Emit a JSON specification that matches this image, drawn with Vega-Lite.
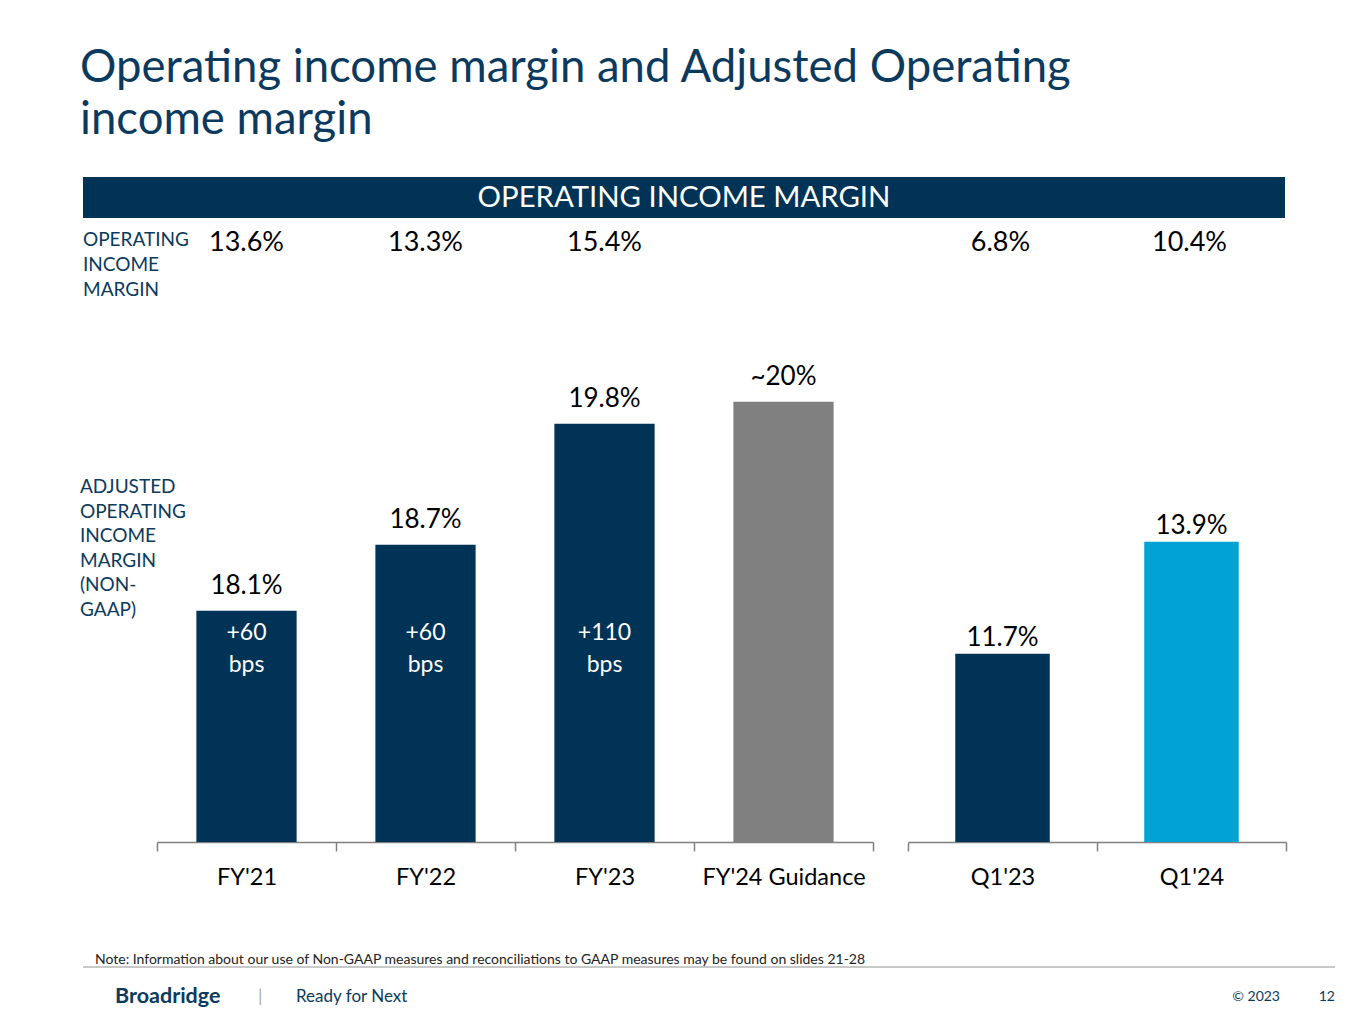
{
  "$schema": "https://vega.github.io/schema/vega-lite/v6.json",
  "background": "white",
  "padding": {"left": 80, "top": 45, "right": 0, "bottom": 0},
  "config": {
    "view": {"stroke": null},
    "font": "Lato",
    "axis": {"labelFont": "Lato", "titleFont": "Lato"},
    "text": {"font": "Lato"},
    "title": {"font": "Lato"}
  },
  "title": {
    "text": ["Operating income margin and Adjusted Operating", "income margin"],
    "anchor": "start",
    "fontSize": 45.5,
    "fontWeight": "normal",
    "color": "#0b3a5e",
    "lineHeight": 52,
    "offset": 34
  },
  "datasets": {
    "margins": [
      {"period": "FY'21", "span": "Fiscal year", "metric": "Operating income margin", "value": 13.6, "label": "13.6%"},
      {"period": "FY'22", "span": "Fiscal year", "metric": "Operating income margin", "value": 13.3, "label": "13.3%"},
      {"period": "FY'23", "span": "Fiscal year", "metric": "Operating income margin", "value": 15.4, "label": "15.4%"},
      {"period": "Q1'23", "span": "Quarter", "metric": "Operating income margin", "value": 6.8, "label": "6.8%"},
      {"period": "Q1'24", "span": "Quarter", "metric": "Operating income margin", "value": 10.4, "label": "10.4%"},
      {"period": "FY'21", "span": "Fiscal year", "metric": "Adjusted operating income margin", "value": 18.1, "label": "18.1%", "kind": "Actual", "bps": "+60\nbps"},
      {"period": "FY'22", "span": "Fiscal year", "metric": "Adjusted operating income margin", "value": 18.7, "label": "18.7%", "kind": "Actual", "bps": "+60\nbps"},
      {"period": "FY'23", "span": "Fiscal year", "metric": "Adjusted operating income margin", "value": 19.8, "label": "19.8%", "kind": "Actual", "bps": "+110\nbps"},
      {"period": "FY'24 Guidance", "span": "Fiscal year", "metric": "Adjusted operating income margin", "value": 20, "label": "~20%", "kind": "Guidance"},
      {"period": "Q1'23", "span": "Quarter", "metric": "Adjusted operating income margin", "value": 11.7, "label": "11.7%", "kind": "Actual"},
      {"period": "Q1'24", "span": "Quarter", "metric": "Adjusted operating income margin", "value": 13.9, "label": "13.9%", "kind": "Current"}
    ]
  },
  "spacing": 8,
  "vconcat": [
    {
      "width": 1202,
      "height": 41,
      "data": {"values": [{"header": "OPERATING INCOME MARGIN"}]},
      "encoding": {
        "x": {"field": "header", "type": "nominal", "scale": {"paddingInner": 0, "paddingOuter": 0}, "axis": null}
      },
      "layer": [
        {"mark": {"type": "rect", "color": "#003356"}},
        {"mark": {"type": "text", "color": "white", "fontSize": 29.3}, "encoding": {"text": {"field": "header"}}}
      ]
    },
    {
      "spacing": 62,
      "vconcat": [
        {
          "spacing": 0,
          "bounds": "flush",
          "hconcat": [
            {
              "width": 74,
              "height": 34,
              "data": {"values": [{"rowLabel": "OPERATING\nINCOME\nMARGIN"}]},
              "mark": {"type": "text", "align": "left", "baseline": "top", "dy": 5, "fontSize": 19, "color": "#0b3a5e", "lineBreak": "\n", "lineHeight": 25},
              "encoding": {
                "x": {"field": "rowLabel", "type": "nominal", "bandPosition": 0, "scale": {"type": "band", "paddingInner": 0, "paddingOuter": 0}, "axis": null},
                "y": {"field": "rowLabel", "type": "nominal", "bandPosition": 0, "scale": {"type": "band", "paddingInner": 0, "paddingOuter": 0}, "axis": null},
                "text": {"field": "rowLabel"}
              }
            },
            {
              "spacing": 33,
              "hconcat": [
                {
                  "width": 716,
                  "height": 34,
                  "data": {"name": "margins"},
                  "transform": [{"filter": "datum.metric === 'Operating income margin' && datum.span === 'Fiscal year'"}],
                  "mark": {"type": "text", "fontSize": 27, "color": "black"},
                  "encoding": {
                    "x": {"field": "period", "type": "nominal", "scale": {"domain": ["FY'21", "FY'22", "FY'23", "FY'24 Guidance"], "paddingInner": 0, "paddingOuter": 0}, "axis": null},
                    "text": {"field": "label"}
                  }
                },
                {
                  "width": 378,
                  "height": 34,
                  "data": {"name": "margins"},
                  "transform": [{"filter": "datum.metric === 'Operating income margin' && datum.span === 'Quarter'"}],
                  "mark": {"type": "text", "fontSize": 27, "color": "black"},
                  "encoding": {
                    "x": {"field": "period", "type": "nominal", "scale": {"domain": ["Q1'23", "Q1'24"], "paddingInner": 0, "paddingOuter": 0}, "axis": null},
                    "text": {"field": "label"}
                  }
                }
              ]
            }
          ]
        },
        {
          "spacing": 64,
          "vconcat": [
            {
              "spacing": 0,
              "bounds": "flush",
              "hconcat": [
                {
                  "width": 74,
                  "height": 480,
                  "data": {"values": [{"rowLabel": "ADJUSTED\nOPERATING\nINCOME\nMARGIN\n(NON-\nGAAP)"}]},
                  "mark": {"type": "text", "align": "left", "baseline": "top", "dx": -3, "dy": 116, "fontSize": 19, "color": "#0b3a5e", "lineBreak": "\n", "lineHeight": 24.6},
                  "encoding": {
                    "x": {"field": "rowLabel", "type": "nominal", "bandPosition": 0, "scale": {"type": "band", "paddingInner": 0, "paddingOuter": 0}, "axis": null},
                    "y": {"field": "rowLabel", "type": "nominal", "bandPosition": 0, "scale": {"type": "band", "paddingInner": 0, "paddingOuter": 0}, "axis": null},
                    "text": {"field": "rowLabel"}
                  }
                },
                {
                  "spacing": 33,
                  "hconcat": [
                    {
                      "width": 716,
                      "height": 480,
                      "data": {"name": "margins"},
                      "transform": [{"filter": "datum.metric === 'Adjusted operating income margin' && datum.span === 'Fiscal year'"}],
                      "encoding": {
                        "x": {"field": "period", "type": "nominal", "scale": {"domain": ["FY'21", "FY'22", "FY'23", "FY'24 Guidance"], "paddingInner": 0, "paddingOuter": 0},
                          "axis": {"title": null, "labelAngle": 0, "labelFontSize": 23.5, "labelColor": "black", "labelPadding": 14, "tickBand": "extent", "tickSize": 9, "tickColor": "#808080", "tickWidth": 1.5, "domainColor": "#808080", "domainWidth": 1.5}}
                      },
                      "layer": [
                        {
                          "mark": {"type": "bar", "width": {"band": 0.56}},
                          "encoding": {
                            "y": {"field": "value", "type": "quantitative", "scale": {"domain": [16, 20.36], "zero": false, "nice": false}, "axis": null},
                            "y2": {"datum": 16},
                            "color": {"field": "kind", "type": "nominal", "scale": {"domain": ["Actual", "Guidance", "Current"], "range": ["#003356", "#808080", "#00a3d4"]}, "legend": null}
                          }
                        },
                        {
                          "mark": {"type": "text", "baseline": "bottom", "dy": -12, "fontSize": 26, "color": "black"},
                          "encoding": {"y": {"field": "value", "type": "quantitative"}, "text": {"field": "label"}}
                        },
                        {
                          "transform": [{"filter": "isValid(datum.bps)"}],
                          "mark": {"type": "text", "baseline": "top", "fontSize": 23, "color": "white", "lineBreak": "\n", "lineHeight": 32},
                          "encoding": {"y": {"datum": 18.0}, "text": {"field": "bps"}}
                        }
                      ]
                    },
                    {
                      "width": 378,
                      "height": 480,
                      "data": {"name": "margins"},
                      "transform": [{"filter": "datum.metric === 'Adjusted operating income margin' && datum.span === 'Quarter'"}],
                      "encoding": {
                        "x": {"field": "period", "type": "nominal", "scale": {"domain": ["Q1'23", "Q1'24"], "paddingInner": 0, "paddingOuter": 0},
                          "axis": {"title": null, "labelAngle": 0, "labelFontSize": 23.5, "labelColor": "black", "labelPadding": 14, "tickBand": "extent", "tickSize": 9, "tickColor": "#808080", "tickWidth": 1.5, "domainColor": "#808080", "domainWidth": 1.5}}
                      },
                      "layer": [
                        {
                          "mark": {"type": "bar", "width": {"band": 0.5}},
                          "encoding": {
                            "y": {"field": "value", "type": "quantitative", "scale": {"domain": [8, 17.43], "zero": false, "nice": false}, "axis": null},
                            "y2": {"datum": 8},
                            "color": {"field": "kind", "type": "nominal", "scale": {"domain": ["Actual", "Guidance", "Current"], "range": ["#003356", "#808080", "#00a3d4"]}, "legend": null}
                          }
                        },
                        {
                          "mark": {"type": "text", "baseline": "bottom", "dy": -3, "fontSize": 26, "color": "black"},
                          "encoding": {"y": {"field": "value", "type": "quantitative"}, "text": {"field": "label"}}
                        }
                      ]
                    }
                  ]
                }
              ]
            },
            {
              "width": 1252,
              "height": 37,
              "data": {"values": [
                {"part": "Note", "side": "left", "row": "note", "text": "Note: Information about our use of Non-GAAP measures and reconciliations to GAAP measures may be found on slides 21-28"},
                {"part": "Brand", "side": "left", "row": "brand", "text": "Broadridge"},
                {"part": "Separator", "side": "left", "row": "brand", "text": "|"},
                {"part": "Tagline", "side": "left", "row": "brand", "text": "Ready for Next"},
                {"part": "Copyright", "side": "right", "row": "brand", "text": "© 2023"},
                {"part": "Page", "side": "right", "row": "brand", "text": "12"}
              ]},
              "encoding": {
                "x": {"field": "side", "type": "nominal", "scale": {"type": "point", "domain": ["left", "right"], "padding": 0}, "axis": null},
                "y": {"field": "row", "type": "nominal", "scale": {"type": "point", "domain": ["note", "brand"], "padding": 0}, "axis": null},
                "text": {"field": "text"}
              },
              "layer": [
                {"mark": {"type": "rule", "color": "#c8c8c8", "strokeWidth": 1.5, "yOffset": 7}, "encoding": {"x": null, "text": null, "y": {"datum": "note", "type": "nominal"}}},
                {"transform": [{"filter": "datum.part === 'Note'"}], "mark": {"type": "text", "align": "left", "dx": 12, "fontSize": 14, "color": "#222222"}},
                {"transform": [{"filter": "datum.part === 'Brand'"}], "mark": {"type": "text", "align": "left", "dx": 32, "fontSize": 21.5, "fontWeight": "bold", "color": "#0b3a5e"}},
                {"transform": [{"filter": "datum.part === 'Separator'"}], "mark": {"type": "text", "align": "left", "dx": 175, "fontSize": 18, "color": "#aaaaaa"}},
                {"transform": [{"filter": "datum.part === 'Tagline'"}], "mark": {"type": "text", "align": "left", "dx": 213, "fontSize": 17, "color": "#0b3a5e"}},
                {"transform": [{"filter": "datum.part === 'Copyright'"}], "mark": {"type": "text", "align": "right", "dx": -55, "fontSize": 14, "color": "#0b3a5e"}},
                {"transform": [{"filter": "datum.part === 'Page'"}], "mark": {"type": "text", "align": "right", "fontSize": 14, "color": "#0b3a5e"}}
              ]
            }
          ]
        }
      ]
    }
  ]
}
